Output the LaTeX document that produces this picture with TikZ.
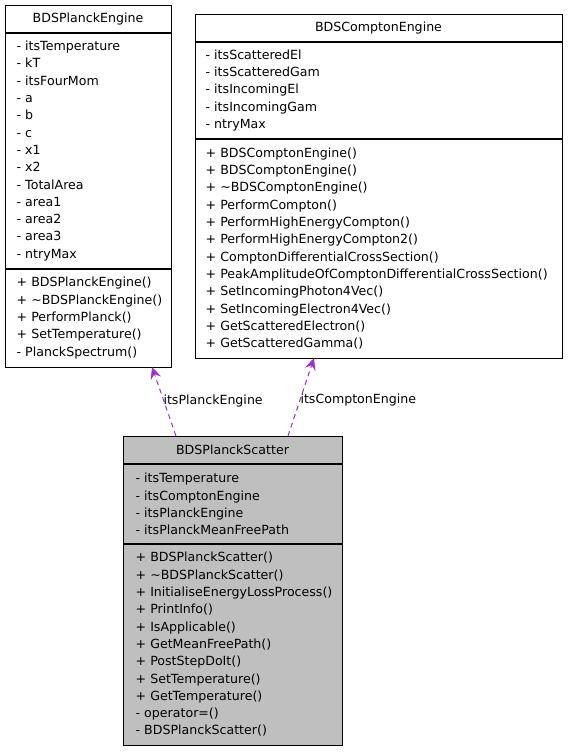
\documentclass[tikz,border=0pt]{standalone}
\usepackage{fontspec}
\setmainfont{DejaVu Sans}
\usetikzlibrary{positioning,arrows.meta}
\definecolor{lila}{HTML}{9A32CD}
\definecolor{gris}{HTML}{BFBFBF}

\begin{document}
\begin{tikzpicture}[x=1pt,y=-1pt,
      caja/.style={draw,line width=0.9pt,rectangle,inner sep=0pt,outer sep=0pt},
      titulo/.style={caja,minimum height=28pt,font=\fontsize{12.6}{15}\selectfont},
      texto/.style={align=left,inner sep=0pt,font=\fontsize{12.6}{17.3}\selectfont},
      sep/.style={line width=1.8pt},
      etiqueta/.style={anchor=west,inner sep=0pt,font=\fontsize{12.6}{15}\selectfont},
      flecha/.style={-{Stealth[length=12pt,width=11pt,inset=4.5pt]},draw=lila,line width=1pt,
                     dash pattern=on 5pt off 4pt}]
    \useasboundingbox (0,0) rectangle (568,752);
    % BDSPlanckEngine
    \node[titulo,minimum width=166pt,anchor=north west] (peT) at (5,5) {BDSPlanckEngine};
    \node[caja,minimum width=166pt,minimum height=236pt,below=0pt of peT] (peA) {};
    \node[caja,minimum width=166pt,minimum height=98pt,below=0pt of peA] (peO) {};
    \node[texto,right=11.5pt of peA.west] (peAt)
      {- itsTemperature\\ - kT\\ - itsFourMom\\ - a\\ - b\\ - c\\ - x1\\ - x2\\
       - TotalArea\\ - area1\\ - area2\\ - area3\\ - ntryMax};
    \node[texto,right=11.5pt of peO.west] (peOt)
      {+ BDSPlanckEngine()\\ + \textasciitilde BDSPlanckEngine()\\ + PerformPlanck()\\
       + SetTemperature()\\ - PlanckSpectrum()};
    % BDSComptonEngine
    \node[titulo,minimum width=367pt,anchor=north west] (ceT) at (195,14) {BDSComptonEngine};
    \node[caja,minimum width=367pt,minimum height=97pt,below=0pt of ceT] (ceA) {};
    \node[caja,minimum width=367pt,minimum height=219pt,below=0pt of ceA] (ceO) {};
    \node[texto,right=10.5pt of ceA.west] (ceAt)
      {- itsScatteredEl\\ - itsScatteredGam\\ - itsIncomingEl\\ - itsIncomingGam\\ - ntryMax};
    \node[texto,right=10.5pt of ceO.west] (ceOt)
      {+ BDSComptonEngine()\\ + BDSComptonEngine()\\ + \textasciitilde BDSComptonEngine()\\
       + PerformCompton()\\ + PerformHighEnergyCompton()\\ + PerformHighEnergyCompton2()\\
       + ComptonDifferentialCrossSection()\\ + PeakAmplitudeOfComptonDifferentialCrossSection()\\
       + SetIncomingPhoton4Vec()\\ + SetIncomingElectron4Vec()\\ + GetScatteredElectron()\\
       + GetScatteredGamma()};
    % BDSPlanckScatter
    \node[titulo,fill=gris,minimum width=219pt,anchor=north west] (psT) at (123,436) {BDSPlanckScatter};
    \node[caja,fill=gris,minimum width=219pt,minimum height=80pt,below=0pt of psT] (psA) {};
    \node[caja,fill=gris,minimum width=219pt,minimum height=201pt,below=0pt of psA] (psO) {};
    \node[texto,right=12.5pt of psA.west] (psAt)
      {- itsTemperature\\ - itsComptonEngine\\ - itsPlanckEngine\\ - itsPlanckMeanFreePath};
    \node[texto,right=12.5pt of psO.west] (psOt)
      {+ BDSPlanckScatter()\\ + \textasciitilde BDSPlanckScatter()\\ + InitialiseEnergyLossProcess()\\
       + PrintInfo()\\ + IsApplicable()\\ + GetMeanFreePath()\\ + PostStepDoIt()\\
       + SetTemperature()\\ + GetTemperature()\\ - operator=()\\ - BDSPlanckScatter()};
    \draw[sep] (peT.south west) -- (peT.south east);
    \draw[sep] (peA.south west) -- (peA.south east);
    \draw[sep] (ceT.south west) -- (ceT.south east);
    \draw[sep] (ceA.south west) -- (ceA.south east);
    \draw[sep] (psT.south west) -- (psT.south east);
    \draw[sep] (psA.south west) -- (psA.south east);
    \draw[flecha] ([xshift=53pt]psT.north west) --
      node[etiqueta,pos=0.5,xshift=-1pt] {itsPlanckEngine} ([xshift=147pt]peO.south west);
    \draw[flecha] ([xshift=165pt]psT.north west) --
      node[etiqueta,pos=0.5,xshift=-1pt,yshift=-3pt] {itsComptonEngine} ([xshift=119pt]ceO.south west);
  \end{tikzpicture}
\end{document}
